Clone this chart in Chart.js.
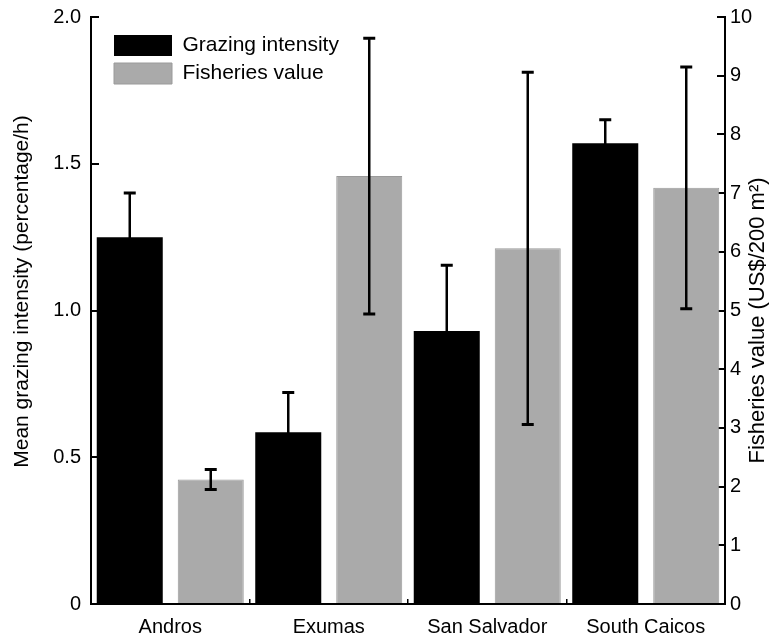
<!DOCTYPE html>
<html>
<head>
<meta charset="utf-8">
<script src="https://cdn.jsdelivr.net/npm/chart.js@4.4.1/dist/chart.umd.min.js"></script>
<style>
  html, body { margin: 0; padding: 0; background: #fff; }
  #wrap { width: 778px; height: 637px; position: relative; }
</style>
</head>
<body>
<div id="wrap"><canvas id="c"></canvas></div>
<script>
const categories = ['Andros', 'Exumas', 'San Salvador', 'South Caicos'];
const grazing = [1.25, 0.585, 0.93, 1.57];
const grazingErr = [0.15, 0.136, 0.224, 0.08];
const fisheries = [2.12, 7.29, 6.06, 7.09];
const fisheriesErr = [0.17, 2.35, 3.0, 2.06];
const leftTicks = [0, 0.5, 1.0, 1.5, 2.0];
const rightTicks = [0, 1, 2, 3, 4, 5, 6, 7, 8, 9, 10];
const seriesNames = ['Grazing intensity', 'Fisheries value'];
const leftTitle = 'Mean grazing intensity (percentage/h)';
const rightTitle = 'Fisheries value (US$/200 m²)';
const errors = [grazingErr, fisheriesErr];

const FONT = '"Liberation Sans", Arial, Helvetica, sans-serif';

const errorBars = {
  id: 'errorBars',
  afterDatasetsDraw(chart) {
    const ctx = chart.ctx;
    ctx.save();
    ctx.strokeStyle = '#000';
    chart.data.datasets.forEach((ds, di) => {
      const meta = chart.getDatasetMeta(di);
      const scale = chart.scales[ds.yAxisID];
      meta.data.forEach((el, i) => {
        const v = ds.data[i], e = errors[di][i];
        const yt = scale.getPixelForValue(v + e);
        const yb = scale.getPixelForValue(v - e);
        const x = el.x;
        ctx.lineWidth = 2.5;
        ctx.beginPath();
        ctx.moveTo(x, yt); ctx.lineTo(x, yb);
        ctx.stroke();
        ctx.lineWidth = 3;
        ctx.beginPath();
        ctx.moveTo(x - 6, yt); ctx.lineTo(x + 6, yt);
        ctx.moveTo(x - 6, yb); ctx.lineTo(x + 6, yb);
        ctx.stroke();
      });
    });
    ctx.restore();
  }
};

const legendShift = {
  id: 'legendShift',
  afterLayout(chart) {
    const lg = chart.legend;
    const ca = chart.chartArea;
    if (lg) {
      const w = lg.width;
      lg.left = ca.left + 16; lg.right = lg.left + w;
      lg.top = ca.top + 11; lg.bottom = ca.bottom;
    }
  }
};

const axisTitles = {
  id: 'axisTitles',
  afterDraw(chart) {
    const ctx = chart.ctx;
    const ly = chart.scales.y, ry = chart.scales.y1;
    const mid = (ly.top + ly.bottom) / 2;
    ctx.save();
    ctx.fillStyle = '#000';
    ctx.textAlign = 'center';
    ctx.textBaseline = 'middle';
    ctx.font = '21px ' + FONT;
    ctx.save();
    ctx.translate(ly.left + 22, mid - 19);
    ctx.rotate(-Math.PI / 2);
    ctx.fillText(leftTitle, 0, 0);
    ctx.restore();
    ctx.font = '22px ' + FONT;
    ctx.save();
    ctx.translate(ry.right - 20, mid + 10);
    ctx.rotate(-Math.PI / 2);
    ctx.fillText(rightTitle, 0, 0);
    ctx.restore();
    ctx.restore();
  }
};

new Chart(document.getElementById('c'), {
  type: 'bar',
  data: {
    labels: categories,
    datasets: [
      {
        label: seriesNames[0],
        data: grazing,
        yAxisID: 'y',
        backgroundColor: '#000000',
        borderColor: '#000000',
        borderWidth: 0,
        categoryPercentage: 1.022,
        barPercentage: 0.815
      },
      {
        label: seriesNames[1],
        data: fisheries,
        yAxisID: 'y1',
        backgroundColor: '#aaaaaa',
        borderColor: '#9a9a9a',
        borderWidth: 1,
        categoryPercentage: 1.022,
        barPercentage: 0.815
      }
    ]
  },
  options: {
    responsive: true,
    maintainAspectRatio: false,
    animation: false,
    devicePixelRatio: 1,
    layout: { padding: { top: 17, right: 0, bottom: 0, left: 0 } },
    plugins: {
      legend: {
        position: 'chartArea',
        align: 'start',
        labels: {
          boxWidth: 58,
          boxHeight: 21,
          padding: 7,
          color: '#000',
          font: { family: FONT, size: 21 }
        }
      },
      tooltip: { enabled: false }
    },
    scales: {
      x: {
        type: 'category',
        offset: true,
        z: 1,
        grid: { display: true, drawOnChartArea: false, drawTicks: true, tickLength: -5, color: '#000', lineWidth: 1.5 },
        border: { display: true, color: '#000', width: 2 },
        ticks: { color: '#000', font: { family: FONT, size: 20 }, padding: 16, maxRotation: 0, autoSkip: false },
        afterFit(s) { s.height = 33; s.paddingLeft = 0; s.paddingRight = 0; }
      },
      y: {
        type: 'linear',
        position: 'left',
        min: 0, max: 2,
        z: 1,
        afterBuildTicks(s) { s.ticks = leftTicks.map(v => ({ value: v })); },
        grid: { display: true, drawOnChartArea: false, drawTicks: true, tickLength: -8, color: '#000', lineWidth: 2 },
        border: { display: true, color: '#000', width: 2 },
        ticks: {
          color: '#000', font: { family: FONT, size: 20 }, padding: 18,
          callback: (v) => (v === 0 ? '0' : Number(v).toFixed(1))
        },
        afterFit(s) { s.width = 91; s.paddingTop = 0; s.paddingBottom = 0; }
      },
      y1: {
        type: 'linear',
        position: 'right',
        min: 0, max: 10,
        z: 1,
        afterBuildTicks(s) { s.ticks = rightTicks.map(v => ({ value: v })); },
        grid: { display: true, drawOnChartArea: false, drawTicks: true, tickLength: -8, color: '#000', lineWidth: 2 },
        border: { display: true, color: '#000', width: 2 },
        ticks: {
          color: '#000', font: { family: FONT, size: 20 }, padding: 13,
          callback: (v) => String(v)
        },
        afterFit(s) { s.width = 53; s.paddingTop = 0; s.paddingBottom = 0; }
      }
    }
  },
  plugins: [errorBars, legendShift, axisTitles]
});
</script>
</body>
</html>
